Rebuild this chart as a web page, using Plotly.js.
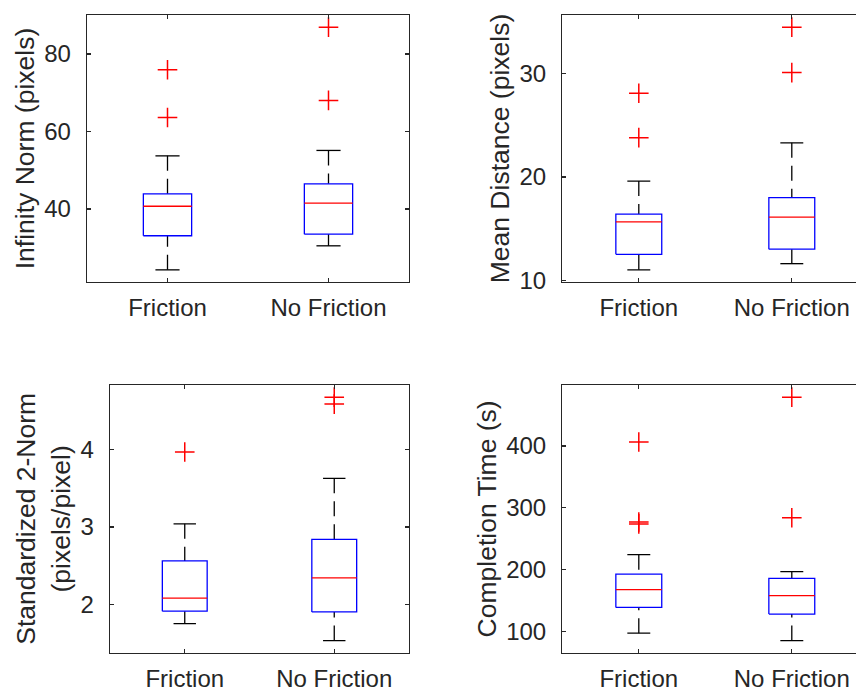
<!DOCTYPE html>
<html>
<head>
<meta charset="utf-8">
<script src="https://cdn.plot.ly/plotly-3.0.1.min.js"></script>
<style>html,body{margin:0;padding:0;background:#fff;}#chart{width:856px;height:692px;}</style>
</head>
<body>
<div id="chart"></div>
<script>
// Categories
const groups = ["Friction", "No Friction"];

// Box statistics: [lower whisker, Q1, median, Q3, upper whisker]
const infinityNormFriction = [24.3, 33.1, 40.7, 43.9, 53.7];
const infinityNormNoFriction = [30.5, 33.5, 41.5, 46.5, 55.1];
const infinityNormFrictionOutliers = [63.6, 75.9];
const infinityNormNoFrictionOutliers = [68.0, 86.9];

const meanDistanceFriction = [11.0, 12.5, 15.65, 16.4, 19.6];
const meanDistanceNoFriction = [11.6, 13.0, 16.1, 18.0, 23.3];
const meanDistanceFrictionOutliers = [23.8, 28.1];
const meanDistanceNoFrictionOutliers = [30.1, 34.5];

const std2NormFriction = [1.75, 1.91, 2.08, 2.56, 3.04];
const std2NormNoFriction = [1.53, 1.90, 2.34, 2.84, 3.63];
const std2NormFrictionOutliers = [3.97];
const std2NormNoFrictionOutliers = [4.59, 4.68];

const timeFriction = [97.3, 138.9, 167.6, 192.9, 224.3];
const timeNoFriction = [85.4, 128.1, 157.9, 186.0, 196.8];
const timeFrictionOutliers = [274, 277, 406.5];
const timeNoFrictionOutliers = [284, 478.9];

// Tick values
const infinityNormTicks = [40, 60, 80];
const meanDistanceTicks = [10, 20, 30];
const std2NormTicks = [2, 3, 4];
const timeTicks = [100, 200, 300, 400];

const BOX_HALF = 0.15, CAP_HALF = 0.075;
const traces = [];

function addBoxes(statsList, outlierList, xa, ya) {
  const bx = [], by = [], mx = [], my = [], wx = [], wy = [], cx = [], cy = [], ox = [], oy = [];
  statsList.forEach((s, i) => {
    const c = i + 1;
    const [lo, q1, med, q3, hi] = s;
    bx.push(c - BOX_HALF, c + BOX_HALF, c + BOX_HALF, c - BOX_HALF, c - BOX_HALF, null);
    by.push(q1, q1, q3, q3, q1, null);
    mx.push(c - BOX_HALF, c + BOX_HALF, null);
    my.push(med, med, null);
    wx.push(c, c, null, c, c, null);
    wy.push(hi, q3, null, lo, q1, null);
    cx.push(c - CAP_HALF, c + CAP_HALF, null, c - CAP_HALF, c + CAP_HALF, null);
    cy.push(hi, hi, null, lo, lo, null);
    outlierList[i].forEach(v => { ox.push(c); oy.push(v); });
  });
  const common = {xaxis: xa, yaxis: ya, showlegend: false, hoverinfo: 'skip'};
  traces.push(Object.assign({x: wx, y: wy, mode: 'lines', line: {color: '#000', width: 1.3, dash: '15px,8px'}}, common));
  traces.push(Object.assign({x: cx, y: cy, mode: 'lines', line: {color: '#000', width: 1.3}}, common));
  traces.push(Object.assign({x: bx, y: by, mode: 'lines', line: {color: '#0000FF', width: 1.3}}, common));
  traces.push(Object.assign({x: mx, y: my, mode: 'lines', line: {color: '#FF0000', width: 1.3}}, common));
  traces.push(Object.assign({x: ox, y: oy, mode: 'markers', marker: {symbol: 'cross-thin-open', size: 14, color: '#FF0000', line: {color: '#FF0000', width: 1.5}}}, common));
}

function padRange(statsList, outlierList) {
  let all = [];
  statsList.forEach((s, i) => { all = all.concat(s, outlierList[i]); });
  const mn = Math.min(...all), mx = Math.max(...all);
  const p = 0.05 * (mx - mn);
  return [mn - p, mx + p];
}

const s1 = [infinityNormFriction, infinityNormNoFriction], o1 = [infinityNormFrictionOutliers, infinityNormNoFrictionOutliers];
const s2 = [meanDistanceFriction, meanDistanceNoFriction], o2 = [meanDistanceFrictionOutliers, meanDistanceNoFrictionOutliers];
const s3 = [std2NormFriction, std2NormNoFriction], o3 = [std2NormFrictionOutliers, std2NormNoFrictionOutliers];
const s4 = [timeFriction, timeNoFriction], o4 = [timeFrictionOutliers, timeNoFrictionOutliers];

addBoxes(s1, o1, 'x', 'y');
addBoxes(s2, o2, 'x2', 'y2');
addBoxes(s3, o3, 'x3', 'y3');
addBoxes(s4, o4, 'x4', 'y4');

const W = 856, H = 692;
const AX = '#262626';
const FONT = '"Liberation Sans", Arial, sans-serif';

function xAxis(l, r, range, anchor) {
  return {
    domain: [l / W, r / W], range: range, anchor: anchor,
    tickvals: [1, 2], ticktext: groups,
    showline: true, linecolor: AX, linewidth: 1.3, mirror: 'ticks',
    ticks: 'inside', ticklen: 4, tickcolor: AX, tickwidth: 1.3,
    showgrid: false, zeroline: false, ticklabelstandoff: 4,
    tickfont: {family: FONT, size: 24, color: AX}
  };
}
function yAxis(top, bot, range, ticks, title, anchor, mirror, standoff) {
  return {
    domain: [1 - bot / H, 1 - top / H], range: range, anchor: anchor,
    tickvals: ticks,
    showline: true, linecolor: AX, linewidth: 1.3, mirror: mirror,
    ticks: 'inside', ticklen: 4, tickcolor: AX, tickwidth: 1.3,
    showgrid: false, zeroline: false, ticklabelstandoff: 10,
    tickfont: {family: FONT, size: 24, color: AX},
    title: {text: title, font: {family: FONT, size: 26.5, color: AX}, standoff: standoff}
  };
}

const rightRange = [0.5, 0.5 + (W - 562.3) / 153];

const layout = {
  width: W, height: H,
  margin: {l: 0, r: 0, t: 0, b: 0},
  paper_bgcolor: '#fff', plot_bgcolor: '#fff',
  font: {family: FONT, color: AX},
  xaxis: xAxis(87, 409, [0.5, 2.5], 'y'),
  yaxis: yAxis(15, 282, padRange(s1, o1), infinityNormTicks, 'Infinity Norm (pixels)', 'x', 'ticks', 2),
  xaxis2: xAxis(562.3, W, rightRange, 'y2'),
  yaxis2: yAxis(15, 282, padRange(s2, o2), meanDistanceTicks, 'Mean Distance (pixels)', 'x2', false, 2),
  xaxis3: xAxis(110, 409, [0.5, 2.5], 'y3'),
  yaxis3: yAxis(385, 652.7, padRange(s3, o3), std2NormTicks, 'Standardized 2-Norm<br>(pixels/pixel)', 'x3', 'ticks', 2),
  xaxis4: xAxis(562.3, W, rightRange, 'y4'),
  yaxis4: yAxis(385, 652.7, padRange(s4, o4), timeTicks, 'Completion Time (s)', 'x4', false, 2)
};

Plotly.newPlot('chart', traces, layout, {staticPlot: true, displayModeBar: false});
</script>
</body>
</html>
